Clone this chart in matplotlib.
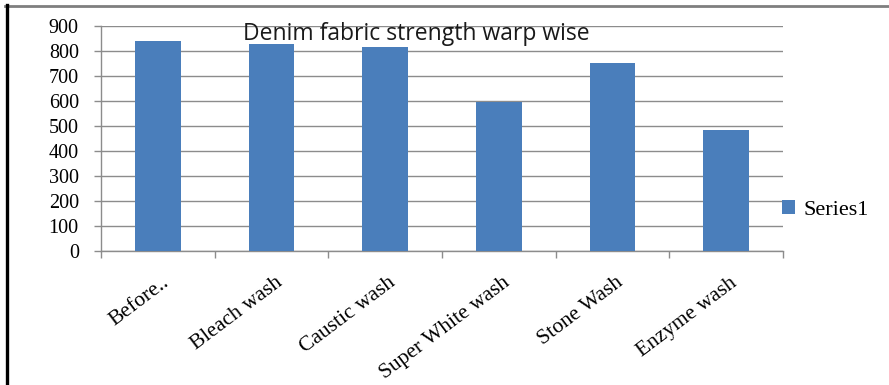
import matplotlib.pyplot as plt
from matplotlib.lines import Line2D
from matplotlib.transforms import ScaledTranslation
import numpy as np

# values
categories = ['Before..', 'Bleach wash', 'Caustic wash', 'Super White wash',
              'Stone Wash', 'Enzyme wash']
strength = [841, 829, 816, 597, 753, 485]
y_ticks = [0, 100, 200, 300, 400, 500, 600, 700, 800, 900]
series_name = 'Series1'
title = 'Denim fabric strength warp wise'

bar_color = '#4A7EBB'
grid_color = '#8C8C8C'
serif = 'Liberation Serif'

fig = plt.figure(figsize=(8.89, 3.85), dpi=100)
ax = fig.add_axes([0.1136, 0.348, 0.7672, 0.5844])

x = np.arange(len(categories))
ax.bar(x, strength, width=0.4, color=bar_color, label=series_name, zorder=3)

ax.set_xlim(-0.5, len(categories) - 0.5)
ax.set_ylim(0, 900)
ax.set_yticks(y_ticks)
ax.set_yticklabels([str(v) for v in y_ticks], family=serif, fontsize=14.5)
ax.yaxis.grid(True, color=grid_color, linewidth=1.0, zorder=0)
ax.tick_params(axis='y', length=5, width=1.0, color=grid_color, pad=11)

# category labels between boundary ticks
ax.set_xticks(x)
ax.set_xticklabels(categories, family=serif, fontsize=15.5, rotation=37,
                   ha='right', va='top', rotation_mode='anchor')
ax.tick_params(axis='x', length=0, pad=16)
shift = ScaledTranslation(3 / 100, 0, fig.dpi_scale_trans)
for lab in ax.get_xticklabels():
    lab.set_transform(lab.get_transform() + shift)
ax.set_xticks(np.arange(-0.5, len(categories)), minor=True)
ax.tick_params(axis='x', which='minor', length=5, width=1.0, color=grid_color)

for side in ['top', 'right']:
    ax.spines[side].set_visible(False)
for side in ['left', 'bottom']:
    ax.spines[side].set_color(grid_color)
    ax.spines[side].set_linewidth(1.0)

ax.text(0.462, 0.965, title, transform=ax.transAxes, ha='center', va='center',
        family='Open Sans', fontsize=16.5, color='#1A1A1A', zorder=4)

leg = ax.legend(loc='center left', bbox_to_anchor=(0.985, 0.182), frameon=False,
                prop={'family': serif, 'size': 16}, handlelength=0.6,
                handleheight=0.6, handletextpad=0.4, borderaxespad=0)

# outer frame of the picture (top grey line, left black line)
fig.add_artist(Line2D([5 / 889, 1], [1 - 5.5 / 385, 1 - 5.5 / 385],
                      transform=fig.transFigure, color='#7F7F7F', linewidth=2))
fig.add_artist(Line2D([6.5 / 889, 6.5 / 889], [0, 1 - 5 / 385],
                      transform=fig.transFigure, color='black', linewidth=2.4))

fig.savefig('out.png', dpi=100)
